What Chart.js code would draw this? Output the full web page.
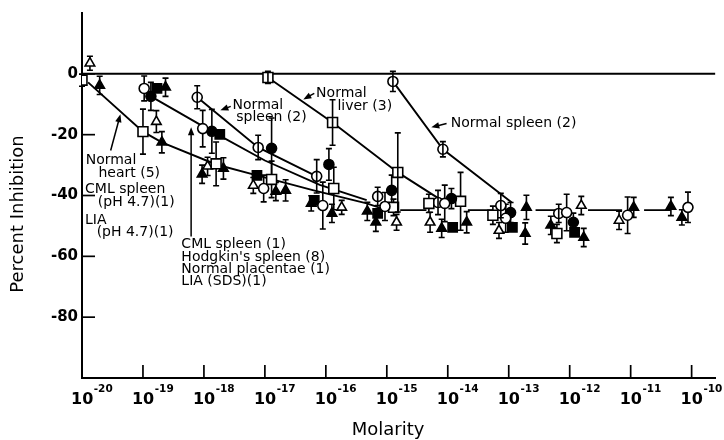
<!DOCTYPE html>
<html><head><meta charset="utf-8">
<script src="https://cdn.jsdelivr.net/npm/chart.js@4.4.1/dist/chart.umd.min.js"></script>
<style>html,body{margin:0;padding:0;background:#fff}#wrap{width:724px;height:440px}</style>
</head><body><div id="wrap"><canvas id="c" width="724" height="440"></canvas></div>
<script>
// ---- data (x = log10 molarity, y = percent inhibition, e = +/- error) ----
const xTickExps = [-20, -19, -18, -17, -16, -15, -14, -13, -12, -11, -10];
const yTickVals = [0, -20, -40, -60, -80];

const ocX = [-18.98, -18.02, -17.02, -16.05, -15.03, -14.05, -13.05, -12.05, -11.05, -10.06];
const ocY = [-4.8, -18.0, -37.7, -43.3, -43.6, -42.6, -47.5, -45.6, -46.5, -43.9];
const ocE = [4.1, 6.0, 4.4, 7.7, 4.6, 6.0, 4.6, 6.0, 6.0, 5.0];

const fcX = [-18.87, -17.87, -16.89, -15.95, -14.92, -13.94, -12.97, -11.94];
const fcY = [-7.4, -18.9, -24.5, -29.8, -38.3, -41.0, -45.6, -48.8];
const fcE = [4.6, 7.2, 10.0, 5.2, 5.0, 3.3, 3.3, 3.0];

const osX = [-20.0, -19.0, -17.8, -16.89, -15.87, -14.89, -14.31, -13.79, -13.26, -12.21];
const osY = [-2.1, -19.0, -29.6, -34.7, -37.7, -43.9, -42.6, -41.9, -46.5, -52.5];
const osE = [2.0, 7.4, 7.2, 6.0, 7.0, 2.7, 3.0, 9.5, 3.0, 3.0];

const fsX = [-18.77, -17.74, -17.13, -16.19, -15.15, -13.92, -12.94, -11.92];
const fsY = [-4.8, -19.9, -33.4, -41.6, -45.9, -50.5, -50.5, -52.1];

const otX = [-19.87, -18.78, -17.94, -17.19, -15.74, -14.84, -14.29, -13.16, -11.81, -11.19];
const otY = [3.5, -15.7, -30.4, -36.7, -43.9, -48.8, -48.8, -51.5, -43.3, -48.2];
const otE = [2.3, 3.6, 3.0, 2.6, 2.3, 2.6, 3.3, 2.6, 3.0, 3.0];

const ftX = [-19.71, -18.63, -18.69, -18.03, -17.68, -16.82, -16.66, -16.24, -15.9, -15.32, -15.18, -14.1, -13.69, -12.71, -12.73, -12.31, -11.77, -10.95, -10.34, -10.16];
const ftY = [-3.8, -4.4, -22.5, -33.0, -31.1, -38.7, -38.3, -42.6, -45.9, -45.2, -48.8, -50.8, -48.8, -43.9, -52.5, -49.8, -53.8, -43.9, -43.6, -47.2];
const ftE = [3, 3, 3.5, 3, 3.5, 3, 3.5, 2.5, 3, 3, 3, 3, 3.5, 4, 3.5, 3, 3, 3.3, 3, 2.5];

// normal spleen (circle with bar)
const ccX = [-18.11, -17.11, -16.15, -15.15, -14.9, -14.16, -14.08, -13.13, -12.18];
const ccY = [-7.7, -24.2, -33.7, -40.3, -2.5, -42.3, -24.8, -43.3, -45.9];
const ccE = [3.8, 4.0, 5.5, 3.0, 3.3, 4.0, 2.5, 4.0, 3.0];

// normal liver (square with bar)
const lvX = [-16.95, -15.89, -14.82];
const lvY = [-1.2, -16.0, -32.4];
const lvE = [2.0, 7.5, 13.0];

// trend lines
const heartLineX = [-19.9, -19.0, -18.69, -17.8, -17.13, -16.2, -15.33, -15.0];
const heartLineY = [-2.8, -19.0, -22.5, -29.8, -33.4, -38.3, -42.6, -44.8];
const cmlLineX = [-18.87, -17.87, -17.0, -16.1, -15.33];
const cmlLineY = [-7.4, -18.9, -28.5, -36.5, -41.5];
const spleenLineX = [-18.11, -17.11, -16.15];
const spleenLineY = [-7.7, -24.2, -33.7];
const liverLineX = [-16.95, -15.89, -14.82, -14.1];
const liverLineY = [-1.2, -16.0, -32.4, -41.6];
const spleen2LineX = [-14.9, -14.08, -12.95];
const spleen2LineY = [-2.5, -24.8, -42.3];
const plateauStart = [-14.78, -13.67, -12.56, -11.7, -10.78];
const plateauEnd = [-14.35, -13.26, -12.2, -11.14, -10.34];
const plateauLevel = -44.8;
const zeroLineX = [-20, -9.61];
const zeroLineY = [0, 0];

// ---- annotations (text & arrows, positioned in data units) ----
const notes = [
  {t:'Normal', x:-19.94, y:-28.5}, {t:'heart (5)', x:-19.73, y:-32.8},
  {t:'CML spleen', x:-19.95, y:-38.0}, {t:'(pH 4.7)(1)', x:-19.74, y:-42.3},
  {t:'LIA', x:-19.95, y:-48.2}, {t:'(pH 4.7)(1)', x:-19.76, y:-52.1},
  {t:'CML spleen (1)', x:-18.37, y:-56.1}, {t:"Hodgkin's spleen (8)", x:-18.37, y:-60.2},
  {t:'Normal placentae (1)', x:-18.37, y:-64.2}, {t:'LIA (SDS)(1)', x:-18.37, y:-68.1},
  {t:'Normal', x:-17.53, y:-10.4}, {t:'spleen (2)', x:-17.47, y:-14.3},
  {t:'Normal', x:-16.16, y:-6.4}, {t:'liver (3)', x:-15.81, y:-10.7},
  {t:'Normal spleen (2)', x:-13.95, y:-16.3}
];
const arrows = [
  {x1:-19.53, y1:-25.2, x2:-19.37, y2:-13.3},
  {x1:-18.21, y1:-53.5, x2:-18.21, y2:-17.6},
  {x1:-17.56, y1:-10.7, x2:-17.73, y2:-12.0},
  {x1:-16.19, y1:-6.4, x2:-16.37, y2:-8.4},
  {x1:-14.02, y1:-16.3, x2:-14.27, y2:-17.6}
];

const FONT = '"DejaVu Sans", "Liberation Sans", Arial, sans-serif';
const pts = (xs, ys) => xs.map((x, i) => ({x: x, y: ys[i]}));
function segs(starts, ends, level) {
  const out = [];
  starts.forEach((s, i) => { out.push({x: s, y: level}, {x: ends[i], y: level}, {x: (ends[i] + (starts[i+1] ?? ends[i])) / 2, y: null}); });
  return out;
}
function lineDs(data, w) {
  return {data, showLine: true, borderColor: '#000', borderWidth: w || 1.9, pointRadius: 0, pointHoverRadius: 0, spanGaps: false, order: 10};
}
function markDs(data, style, r, filled, err, through) {
  return {data, err, through, showLine: false, pointStyle: style, pointRadius: r, pointHoverRadius: r,
    pointBackgroundColor: filled ? '#000' : '#fff', pointBorderColor: '#000', pointBorderWidth: 1.6, order: 1};
}

function drawErr(chart, through) {
  const ctx = chart.ctx, ys = chart.scales.y;
  chart.data.datasets.forEach((ds, di) => {
    if (!ds.err || !!ds.through !== through) return;
    const meta = chart.getDatasetMeta(di);
    ctx.save(); ctx.strokeStyle = '#000'; ctx.lineWidth = 1.6;
    meta.data.forEach((p, i) => {
      const e = ds.err[i]; if (!e) return;
      const v = ds.data[i].y;
      const y1 = ys.getPixelForValue(v + e), y2 = ys.getPixelForValue(v - e), x = p.x;
      ctx.beginPath();
      ctx.moveTo(x, y1); ctx.lineTo(x, y2);
      ctx.moveTo(x - 3, y1); ctx.lineTo(x + 3, y1);
      ctx.moveTo(x - 3, y2); ctx.lineTo(x + 3, y2);
      ctx.stroke();
    });
    ctx.restore();
  });
}

const decor = {
  id: 'decor',
  beforeDatasetsDraw(chart) { drawErr(chart, false); },
  afterDatasetsDraw(chart) { drawErr(chart, true); },
  afterDraw(chart) {
    const ctx = chart.ctx, xs = chart.scales.x, ys = chart.scales.y, a = chart.chartArea;
    ctx.save();
    ctx.strokeStyle = '#000'; ctx.fillStyle = '#000'; ctx.lineWidth = 1.7;
    // inner tick marks
    ys.ticks.forEach(t => { const py = ys.getPixelForValue(t.value); ctx.beginPath(); ctx.moveTo(a.left, py); ctx.lineTo(a.left + 13, py); ctx.stroke(); });
    xs.ticks.forEach(t => { const px = xs.getPixelForValue(t.value); ctx.beginPath(); ctx.moveTo(px, a.bottom); ctx.lineTo(px, a.bottom - 13); ctx.stroke(); });
    // x tick labels 10^n
    xs.ticks.forEach(t => {
      const px = xs.getPixelForValue(t.value);
      ctx.textAlign = 'left'; ctx.textBaseline = 'alphabetic';
      ctx.font = 'bold 16px ' + FONT;
      const w = ctx.measureText('10').width;
      const x0 = px - 11;
      ctx.fillText('10', x0, 404);
      ctx.font = 'bold 10.5px ' + FONT;
      ctx.fillText(String(t.value), x0 + w + 0.5, 392);
    });
    // axis titles
    ctx.font = '18px ' + FONT; ctx.textAlign = 'center'; ctx.textBaseline = 'middle';
    ctx.fillText('Molarity', 388, 430);
    ctx.save(); ctx.translate(18, 214); ctx.rotate(-Math.PI / 2); ctx.fillText('Percent Inhibition', 0, 0); ctx.restore();
    // annotations
    ctx.font = '14px ' + FONT; ctx.textAlign = 'left'; ctx.textBaseline = 'middle';
    notes.forEach(n => ctx.fillText(n.t, xs.getPixelForValue(n.x), ys.getPixelForValue(n.y)));
    // arrows
    ctx.lineWidth = 1.5;
    arrows.forEach(ar => {
      const x1 = xs.getPixelForValue(ar.x1), y1 = ys.getPixelForValue(ar.y1);
      const x2 = xs.getPixelForValue(ar.x2), y2 = ys.getPixelForValue(ar.y2);
      const ang = Math.atan2(y2 - y1, x2 - x1), L = 8, H = 3.2;
      ctx.beginPath(); ctx.moveTo(x1, y1); ctx.lineTo(x2 - Math.cos(ang) * L * 0.7, y2 - Math.sin(ang) * L * 0.7); ctx.stroke();
      ctx.beginPath(); ctx.moveTo(x2, y2);
      ctx.lineTo(x2 - Math.cos(ang) * L - Math.sin(ang) * H, y2 - Math.sin(ang) * L + Math.cos(ang) * H);
      ctx.lineTo(x2 - Math.cos(ang) * L + Math.sin(ang) * H, y2 - Math.sin(ang) * L - Math.cos(ang) * H);
      ctx.closePath(); ctx.fill();
    });
    ctx.restore();
  }
};

new Chart(document.getElementById('c'), {
  type: 'scatter',
  data: {
    datasets: [
      lineDs(pts(zeroLineX, zeroLineY), 2),
      lineDs(pts(heartLineX, heartLineY)),
      lineDs(pts(cmlLineX, cmlLineY)),
      lineDs(pts(spleenLineX, spleenLineY)),
      lineDs(pts(liverLineX, liverLineY)),
      lineDs(pts(spleen2LineX, spleen2LineY)),
      lineDs(segs(plateauStart, plateauEnd, plateauLevel)),
      markDs(pts(ocX, ocY), 'circle', 5, false, ocE, false),
      markDs(pts(fcX, fcY), 'circle', 5, true, fcE, false),
      markDs(pts(osX, osY), 'rect', 7, false, osE, false),
      markDs(pts(fsX, fsY), 'rect', 6.5, true, null, false),
      markDs(pts(otX, otY), 'triangle', 5.5, false, otE, false),
      markDs(pts(ftX, ftY), 'triangle', 5.5, true, ftE, false),
      markDs(pts(ccX, ccY), 'circle', 5, false, ccE, true),
      markDs(pts(lvX, lvY), 'rect', 7, false, lvE, true)
    ]
  },
  options: {
    responsive: false, animation: false, devicePixelRatio: 1,
    layout: {padding: {top: 13, right: 0, left: 0, bottom: 0}},
    plugins: {legend: {display: false}, tooltip: {enabled: false}},
    scales: {
      x: {
        type: 'linear', min: -20, max: -9.61,
        grid: {display: false, drawTicks: false},
        border: {display: true, color: '#000', width: 2},
        ticks: {display: false},
        afterBuildTicks: s => { s.ticks = xTickExps.map(v => ({value: v})); },
        afterFit: s => { s.height = 62; }
      },
      y: {
        type: 'linear', min: -100, max: 20,
        grid: {display: false, drawTicks: false},
        border: {display: true, color: '#000', width: 2},
        ticks: {color: '#000', padding: 4, font: {family: FONT, size: 15, weight: 'bold'}, callback: v => String(v)},
        afterBuildTicks: s => { s.ticks = yTickVals.map(v => ({value: v})); },
        afterFit: s => { s.width = 82; }
      }
    }
  },
  plugins: [decor]
});
</script></body></html>
